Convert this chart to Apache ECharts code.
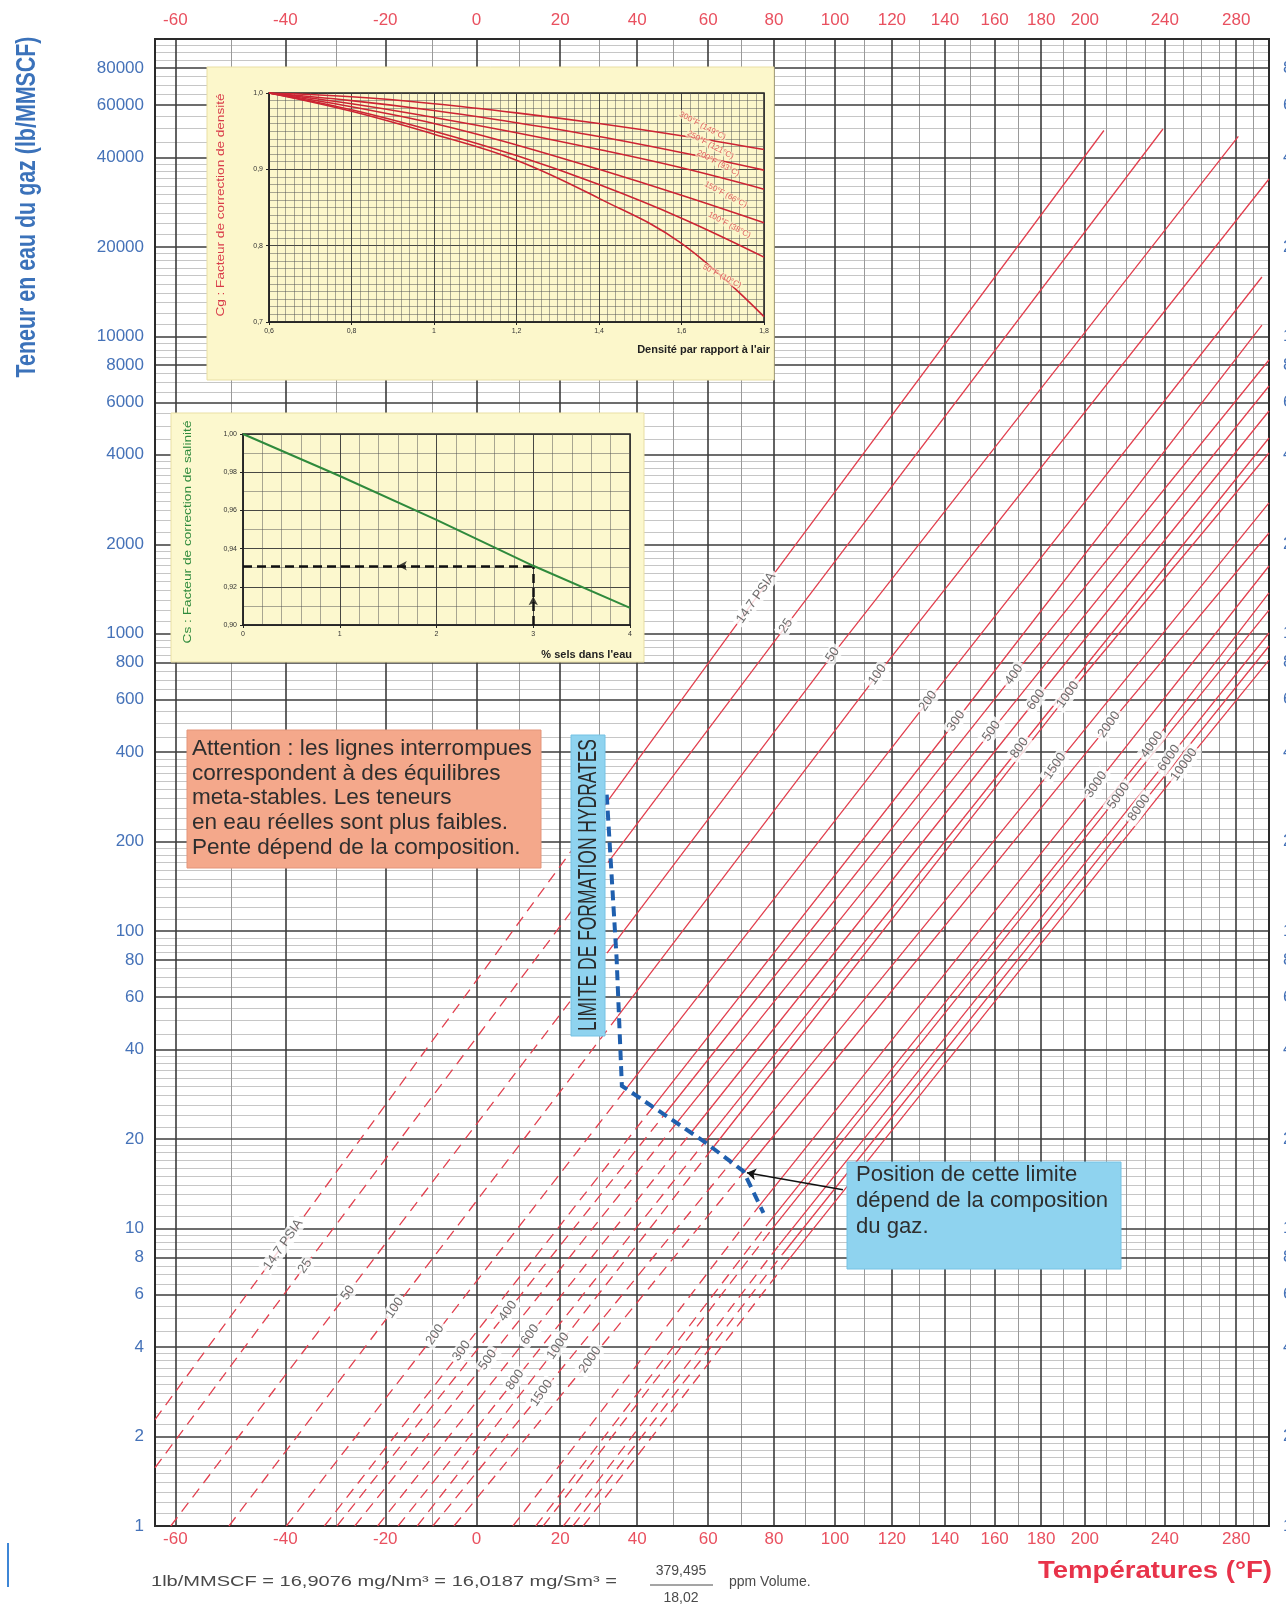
<!DOCTYPE html>
<html><head><meta charset="utf-8">
<script src="https://cdn.jsdelivr.net/npm/echarts@6/dist/echarts.min.js"></script>
<style>html,body{margin:0;padding:0;background:#fff;overflow:hidden}#c{width:1286px;height:1608px}</style>
</head><body><div id="c"></div>
<script>
// ================= DATA =================
const tempTicks = [-60,-40,-20,0,20,40,60,80,100,120,140,160,180,200,240,280];
const tempMinor = [-50,-30,-10,10,30,50,70,90,110,130,150,170,190,210,220,230,250,260,270,290];
const waterTicks = [1,2,4,6,8,10,20,40,60,80,100,200,400,600,800,1000,2000,4000,6000,8000,10000,20000,40000,60000,80000];
const logMajorMant = [1,2,4,6,8];
const logMinorMant = [1.1,1.2,1.3,1.4,1.5,1.6,1.7,1.8,1.9,2.2,2.4,2.6,2.8,3,3.2,3.4,3.6,3.8,4.5,5,5.5,6.5,7,7.5,8.5,9,9.5];
const decades = [1,10,100,1000,10000];

const isobarNames = ['14.7 PSIA','25','50','100','200','300','400','500','600','800','1000','1500','2000','3000','4000','5000','6000','8000','10000'];
// metastable (dashed) stretch of each isobar: [°F, lb/MMSCF]
const isobarDashed = [
 [[-63.5,2.28],[-40.4,8.83],[32.0,272]],
 [[-63.5,1.57],[-36.2,7.48],[32.8,174]],
 [[-60.8,1],[-27.7,6.08],[34.0,91.3]],
 [[-50.5,1],[-18.0,5.41],[34.9,51.9]],
 [[-39.8,1],[-9.3,4.40],[37.0,29.5]],
 [[-32.4,1],[-3.4,3.88],[44.3,25.6]],
 [[-29.9,1],[7.3,5.28],[47.4,24.1]],
 [[-26.3,1],[2.6,3.62],[51.0,22.7]],
 [[-21.6,1],[12.6,4.40],[55.0,21.0]],
 [[-17.3,1],[9.0,3.10],[59.1,19.6]],
 [[-13.2,1],[19.5,4.03],[61.4,18.7]],
 [[-9.8,1],[15.4,2.80],[66.8,16.7]],
 [[-5.1,1],[27.6,3.62],[70.7,15.5]],
 [[8.5,1],[75.6,12.0]],
 [[14.0,1],[78.1,10.4]],
 [[15.8,1],[79.2,9.9]],
 [[20.8,1],[81.6,8.8]],
 [[23.2,1],[82.7,8.2]],
 [[25.8,1],[84.0,7.7]]
];
// stable (solid) stretch of each isobar
const isobarSolid = [
 [[32.0,272],[74.4,1320],[209.1,49240]],
 [[32.8,174],[83.8,1062],[239.0,49820]],
 [[34.0,91.3],[99.2,851],[281.3,47080]],
 [[34.9,51.9],[114.8,729],[300,33830]],
 [[37.0,29.5],[133.5,594],[295.6,15840]],
 [[44.3,25.6],[144.3,509],[295.6,10920]],
 [[47.4,24.1],[168.2,729],[300,8331]],
 [[51.0,22.7],[158.7,471],[300,6811]],
 [[55.0,21.0],[177.7,600],[300,5613]],
 [[59.1,19.6],[170.5,413],[300,4553]],
 [[61.4,18.7],[192.1,624],[300,4055]],
 [[66.8,16.7],[186.2,359],[300,2754]],
 [[70.7,15.5],[211.6,495],[300,2182]],
 [[75.6,12.0],[205.3,311],[300,1690]],
 [[78.1,10.4],[233.2,424],[300,1372]],
 [[79.2,9.9],[216.3,285],[300,1202]],
 [[81.6,8.8],[242.2,382],[300,1006]],
 [[82.7,8.2],[226.6,260],[300,910]],
 [[84.0,7.7],[250.3,363],[300,816]]
];
const labelUpper = [[74.4,1320],[83.8,1062],[99.2,851],[114.8,729],[133.5,594],[144.3,509],[168.2,729],[158.7,471],[177.7,600],[170.5,413],[192.1,624],[186.2,359],[211.6,495],[205.3,311],[233.2,424],[216.3,285],[242.2,382],[226.6,260],[250.3,363]];
const labelLower = [[-40.4,8.83],[-36.2,7.48],[-27.7,6.08],[-18.0,5.41],[-9.3,4.40],[-3.4,3.88],[7.3,5.28],[2.6,3.62],[12.6,4.40],[9.0,3.10],[19.5,4.03],[15.4,2.80],[27.6,3.62]];
const hydrateLimit = [[31.9,288],[34.5,81.3],[35.9,30.2],[58.6,19.7],[70.5,15.6],[76.7,11.3]];
const arrowFrom = [102.7,13.5];
const arrowTo = [71.6,15.4];

// inset 1 : gravity correction
const gravity = [0.6,0.8,1.0,1.2,1.4,1.6,1.8];
const cgNames = ['300°F (149°C)','250°F (121°C)','200°F (93°C)','150°F (66°C)','100°F (38°C)','50°F (10°C)'];
const cgCurves = [
 [1.0,0.995,0.986,0.974,0.960,0.944,0.926],
 [1.0,0.990,0.977,0.961,0.943,0.922,0.899],
 [1.0,0.986,0.968,0.948,0.926,0.902,0.874],
 [1.0,0.982,0.960,0.932,0.900,0.866,0.830],
 [1.0,0.978,0.950,0.918,0.880,0.836,0.785],
 [1.0,0.976,0.946,0.912,0.862,0.803,0.707]
];
const cgLabelPos = [[1.651,0.957],[1.670,0.932],[1.689,0.908],[1.707,0.867],[1.716,0.827],[1.698,0.760]];
// inset 2 : salinity correction
const salts = [0,1,2,3,4];
const csValues = [1.0,0.978,0.955,0.931,0.909];
const csExample = [3,0.931];

// ================= HELPERS =================
const X = t => -1000 / (t + 460);
const Y = w => Math.log10(w);
const P = p => [X(p[0]), Y(p[1])];
const FF = "'Liberation Sans', Arial, Helvetica, sans-serif";
const mctx = document.createElement('canvas').getContext('2d');
function fit(text, font, target) { mctx.font = font; return target / mctx.measureText(text).width; }

const RED = '#e2404f';
const vMajor = tempTicks.map(t => ({coords: [[X(t), 0], [X(t), 5]]}));
const vMinor = tempMinor.map(t => ({coords: [[X(t), 0], [X(t), 5]]}));
const hMajor = [], hMinor = [];
decades.forEach(d => {
  logMajorMant.forEach(m => { if (d * m > 1) hMajor.push({coords: [[X(-63.5), Y(d*m)], [X(300), Y(d*m)]]}); });
  logMinorMant.forEach(m => hMinor.push({coords: [[X(-63.5), Y(d*m)], [X(300), Y(d*m)]]}));
});

function gridLines(data, color, width) {
  return {type: 'lines', coordinateSystem: 'cartesian2d', xAxisIndex: 0, yAxisIndex: 0, z: 1, silent: true,
    polyline: false, lineStyle: {color: color, width: width, opacity: 1}, data: data};
}

const xMainAxis = (pos, margin) => ({gridIndex: 0, type: 'value', position: pos, min: X(-63.5), max: X(300),
  axisLine: {show: false}, axisTick: {show: false}, splitLine: {show: false},
  axisLabel: {customValues: tempTicks.map(X), formatter: v => String(Math.round(-1000 / v - 460)),
    color: '#e9505f', fontSize: 17, fontFamily: FF, margin: margin}});
const yMainAxis = (pos, margin) => ({gridIndex: 0, type: 'value', position: pos, min: 0, max: 5,
  axisLine: {show: false}, axisTick: {show: false}, splitLine: {show: false},
  axisLabel: {customValues: waterTicks.map(Y), formatter: v => String(Math.round(Math.pow(10, v))),
    color: '#4572b8', fontSize: 17, fontFamily: FF, margin: margin}});

const insetAxisCommon = {z: 6, axisLine: {show: true, onZero: false, lineStyle: {color: '#222', width: 1.5}},
  axisTick: {show: true, length: 3, lineStyle: {color: '#222'}},
  splitLine: {show: true, lineStyle: {color: '#333', width: 0.9}},
  minorSplitLine: {show: true, lineStyle: {color: '#555', width: 0.5}}};
const comma = (v, d) => v.toFixed(d).replace('.', ',');

const lineLabel = {show: true, position: 'inside', rotate: 55, formatter: p => p.name, color: '#4a4a4a',
  fontSize: 13, fontFamily: FF, backgroundColor: '#fff', padding: [1, 3]};

// text fitting
const titleFont = "bold 27px 'Liberation Sans', Arial";
const hydFont = "26px 'Liberation Sans', Arial";
const attFontBase = "18px 'Liberation Sans', Arial";
const attLines = ['Attention : les lignes interrompues', 'correspondent à des équilibres', 'meta-stables. Les teneurs', 'en eau réelles sont plus faibles.', 'Pente dépend de la composition.'];
const attSize = 18 * fit(attLines[0], attFontBase, 340);
const posLines = ['Position de cette limite', 'dépend de la composition', 'du gaz.'];
const posSize = 18 * fit(posLines[1], attFontBase, 252);
const formulaTxt = '1lb/MMSCF = 16,9076 mg/Nm³ = 16,0187 mg/Sm³ =';
const formulaFont = "14px 'Liberation Sans', Arial";
const tempTitleFont = "bold 23px 'Liberation Sans', Arial";
const tempTitleScale = fit('Températures (°F)', tempTitleFont, 234);

const graphics = [
  {type: 'rect', z: 5, shape: {x: 207, y: 67, width: 567, height: 313}, style: {fill: '#FCF7CB', stroke: '#E9DFA4', lineWidth: 1}},
  {type: 'rect', z: 5, shape: {x: 171, y: 413, width: 473, height: 249}, style: {fill: '#FCF8CE', stroke: '#E9DFA4', lineWidth: 1}},
  {type: 'rect', z: 5, shape: {x: 187, y: 730, width: 354, height: 138}, style: {fill: '#F4A88B', stroke: '#E4957A', lineWidth: 1}},
  {type: 'rect', z: 5, shape: {x: 571, y: 735, width: 34, height: 301}, style: {fill: '#8FD3EF', stroke: '#74C2E4', lineWidth: 1}},
  {type: 'rect', z: 5, shape: {x: 847, y: 1162, width: 274, height: 107}, style: {fill: '#8FD3EF', stroke: '#74C2E4', lineWidth: 1}},
  {type: 'text', z: 5, x: 28, y: 207, rotation: Math.PI / 2, scaleX: fit('Teneur en eau du gaz (lb/MMSCF)', titleFont, 341),
    style: {text: 'Teneur en eau du gaz (lb/MMSCF)', x: 0, y: 0, font: titleFont, fill: '#3b72ba', align: 'center', verticalAlign: 'middle', textAlign: 'center', textVerticalAlign: 'middle'}},
  {type: 'text', z: 6, x: 589, y: 885, rotation: Math.PI / 2, scaleX: fit('LIMITE DE FORMATION HYDRATES', hydFont, 292),
    style: {text: 'LIMITE DE FORMATION HYDRATES', x: 0, y: 0, font: hydFont, fill: '#2a2a2a', align: 'center', verticalAlign: 'middle', textAlign: 'center', textVerticalAlign: 'middle'}},
  {type: 'text', z: 6, x: 1272, y: 1572, scaleX: tempTitleScale,
    style: {text: 'Températures (°F)', x: 0, y: 0, font: tempTitleFont, fill: '#e8334a', align: 'right', verticalAlign: 'middle', textAlign: 'right', textVerticalAlign: 'middle'}},
  {type: 'text', z: 6, x: 151, y: 1582, scaleX: fit(formulaTxt, formulaFont, 466),
    style: {text: formulaTxt, x: 0, y: 0, font: formulaFont, fill: '#4a4a4a', align: 'left', verticalAlign: 'middle', textAlign: 'left', textVerticalAlign: 'middle'}},
  {type: 'text', z: 6, x: 681, y: 1571, style: {text: '379,495', font: formulaFont, fill: '#4a4a4a', align: 'center', verticalAlign: 'middle', textAlign: 'center', textVerticalAlign: 'middle'}},
  {type: 'text', z: 6, x: 681, y: 1598, style: {text: '18,02', font: formulaFont, fill: '#4a4a4a', align: 'center', verticalAlign: 'middle', textAlign: 'center', textVerticalAlign: 'middle'}},
  {type: 'line', z: 6, shape: {x1: 650, y1: 1585, x2: 713, y2: 1585}, style: {stroke: '#4a4a4a', lineWidth: 1}},
  {type: 'text', z: 6, x: 729, y: 1582, style: {text: 'ppm Volume.', font: formulaFont, fill: '#4a4a4a', align: 'left', verticalAlign: 'middle', textAlign: 'left', textVerticalAlign: 'middle'}},
  {type: 'line', z: 6, shape: {x1: 8, y1: 1543, x2: 8, y2: 1587}, style: {stroke: '#3d86d6', lineWidth: 2}},
  // inset texts
  {type: 'text', z: 8, x: 770, y: 350, style: {text: "Densité par rapport à l'air", font: "bold 11px 'Liberation Sans', Arial", fill: '#222', align: 'right', verticalAlign: 'middle', textAlign: 'right', textVerticalAlign: 'middle'}},
  {type: 'text', z: 8, x: 221, y: 205, rotation: Math.PI / 2, scaleX: fit('Cg : Facteur de correction de densité', "10px 'Liberation Sans', Arial", 223),
    style: {text: 'Cg : Facteur de correction de densité', x: 0, y: 0, font: "10px 'Liberation Sans', Arial", fill: '#d83a48', align: 'center', verticalAlign: 'middle', textAlign: 'center', textVerticalAlign: 'middle'}},
  {type: 'text', z: 8, x: 632, y: 655, style: {text: "% sels dans l'eau", font: "bold 11px 'Liberation Sans', Arial", fill: '#222', align: 'right', verticalAlign: 'middle', textAlign: 'right', textVerticalAlign: 'middle'}},
  {type: 'text', z: 8, x: 188, y: 532, rotation: Math.PI / 2, scaleX: fit('Cs : Facteur de correction de salinité', "10px 'Liberation Sans', Arial", 223),
    style: {text: 'Cs : Facteur de correction de salinité', x: 0, y: 0, font: "10px 'Liberation Sans', Arial", fill: '#2f8a3c', align: 'center', verticalAlign: 'middle', textAlign: 'center', textVerticalAlign: 'middle'}}
];
const attY = [748.6, 774.2, 797.8, 822.4, 848];
attLines.forEach((t, i) => graphics.push({type: 'text', z: 6, x: 192, y: attY[i],
  style: {text: t, font: attSize.toFixed(2) + "px 'Liberation Sans', Arial", fill: '#2e2e2e', align: 'left', verticalAlign: 'middle', textAlign: 'left', textVerticalAlign: 'middle'}}));
const posY = [1175, 1201, 1227];
posLines.forEach((t, i) => graphics.push({type: 'text', z: 6, x: 856, y: posY[i],
  style: {text: t, font: posSize.toFixed(2) + "px 'Liberation Sans', Arial", fill: '#2e2e2e', align: 'left', verticalAlign: 'middle', textAlign: 'left', textVerticalAlign: 'middle'}}));

const series = [
  gridLines(hMinor, '#c6c6c6', 1.2),
  gridLines(vMinor, '#9a9a9a', 1),
  gridLines(hMajor, '#3c3c3c', 1.6),
  gridLines(vMajor, '#3c3c3c', 1.6),
  {type: 'lines', coordinateSystem: 'cartesian2d', xAxisIndex: 0, yAxisIndex: 0, polyline: true, z: 3, silent: true,
    lineStyle: {color: RED, width: 1.3, opacity: 1, type: [11, 7]}, data: isobarDashed.map(l => ({coords: l.map(P)}))},
  {type: 'lines', coordinateSystem: 'cartesian2d', xAxisIndex: 0, yAxisIndex: 0, polyline: true, z: 3, silent: true,
    lineStyle: {color: RED, width: 1.3, opacity: 1}, data: isobarSolid.map(l => ({coords: l.map(P)}))},
  {type: 'lines', coordinateSystem: 'cartesian2d', xAxisIndex: 0, yAxisIndex: 0, polyline: true, z: 4, silent: true,
    lineStyle: {color: '#1f5fae', width: 4, opacity: 1, type: [10, 6]}, data: [{coords: hydrateLimit.map(P)}]},
  {type: 'scatter', xAxisIndex: 0, yAxisIndex: 0, z: 4, symbolSize: 0, silent: true, label: lineLabel,
    data: labelUpper.map((p, i) => ({name: isobarNames[i], value: P(p)}))},
  {type: 'scatter', xAxisIndex: 0, yAxisIndex: 0, z: 4, symbolSize: 0, silent: true, label: lineLabel,
    data: labelLower.map((p, i) => ({name: isobarNames[i], value: P(p)}))},
  {type: 'lines', coordinateSystem: 'cartesian2d', xAxisIndex: 0, yAxisIndex: 0, z: 7, silent: true,
    symbol: ['none', 'arrow'], symbolSize: 9, lineStyle: {color: '#111', width: 1.5, opacity: 1},
    data: [{coords: [P(arrowFrom), P(arrowTo)]}]},
  // inset 2
  {type: 'line', xAxisIndex: 3, yAxisIndex: 3, z: 9, showSymbol: false, silent: true,
    lineStyle: {color: '#2f8a3c', width: 2}, data: salts.map((s, i) => [s, csValues[i]])},
  {type: 'lines', coordinateSystem: 'cartesian2d', xAxisIndex: 3, yAxisIndex: 3, z: 9, silent: true,
    lineStyle: {color: '#111', width: 2.5, opacity: 1, type: [9, 5]},
    data: [{coords: [[0, csExample[1]], [csExample[0], csExample[1]]]}, {coords: [[csExample[0], 0.9], [csExample[0], csExample[1]]]}]},
  {type: 'scatter', xAxisIndex: 3, yAxisIndex: 3, z: 10, silent: true, symbol: 'arrow', symbolSize: [7, 9],
    itemStyle: {color: '#111'},
    data: [{value: [1.6, csExample[1]], symbolRotate: 90}, {value: [csExample[0], 0.915], symbolRotate: 0}]}
];
cgCurves.forEach(c => series.push({type: 'line', xAxisIndex: 2, yAxisIndex: 2, z: 9, showSymbol: false, silent: true,
  smooth: 0.4, lineStyle: {color: '#cc2433', width: 1.6}, data: gravity.map((g, i) => [g, c[i]])}));
series.push({type: 'scatter', xAxisIndex: 2, yAxisIndex: 2, z: 10, symbolSize: 0, silent: true,
  data: cgLabelPos.map((p, i) => ({name: cgNames[i], value: p})),
  label: {show: true, position: 'inside', formatter: p => p.name, rotate: -28, color: '#d8323e', fontSize: 8,
    fontFamily: FF, backgroundColor: 'rgba(252,247,203,0.85)', padding: [0, 1]}});

const option = {
  animation: false,
  backgroundColor: '#ffffff',
  grid: [
    {left: 155, right: 17, top: 39, bottom: 82, show: true, borderColor: '#2a2a2a', borderWidth: 2, backgroundColor: 'transparent', z: 3, outerBoundsMode: 'none', containLabel: false},
    {left: 269, top: 93, width: 495, height: 229, show: true, borderColor: '#222', borderWidth: 1.5, backgroundColor: 'transparent', z: 6, outerBoundsMode: 'none', containLabel: false},
    {left: 243, top: 434, width: 387, height: 191, show: true, borderColor: '#222', borderWidth: 1.5, backgroundColor: 'transparent', z: 6, outerBoundsMode: 'none', containLabel: false}
  ],
  xAxis: [
    xMainAxis('bottom', 5),
    xMainAxis('top', 10),
    Object.assign({gridIndex: 1, type: 'value', min: 0.6, max: 1.8, interval: 0.2, minorTick: {show: false, splitNumber: 10},
      axisLabel: {fontSize: 7, color: '#333', margin: 6, fontFamily: FF, formatter: v => Math.abs(v - 1) < 1e-9 ? '1' : comma(v, 1)}}, insetAxisCommon),
    Object.assign({gridIndex: 2, type: 'value', min: 0, max: 4, interval: 1, minorTick: {show: false, splitNumber: 5},
      axisLabel: {fontSize: 7, color: '#333', margin: 6, fontFamily: FF}}, insetAxisCommon)
  ],
  yAxis: [
    yMainAxis('left', 11),
    yMainAxis('right', 14),
    Object.assign({gridIndex: 1, type: 'value', min: 0.7, max: 1.0, interval: 0.1, minorTick: {show: false, splitNumber: 10},
      axisLabel: {fontSize: 7, color: '#333', margin: 6, fontFamily: FF, formatter: v => comma(v, 1)}}, insetAxisCommon),
    Object.assign({gridIndex: 2, type: 'value', min: 0.9, max: 1.0, interval: 0.02, minorTick: {show: false, splitNumber: 2},
      axisLabel: {fontSize: 7, color: '#333', margin: 6, fontFamily: FF, formatter: v => comma(v, 2)}}, insetAxisCommon)
  ],
  graphic: {elements: graphics},
  series: series
};
const chart = echarts.init(document.getElementById('c'), null, {renderer: 'canvas'});
chart.setOption(option);
</script></body></html>
